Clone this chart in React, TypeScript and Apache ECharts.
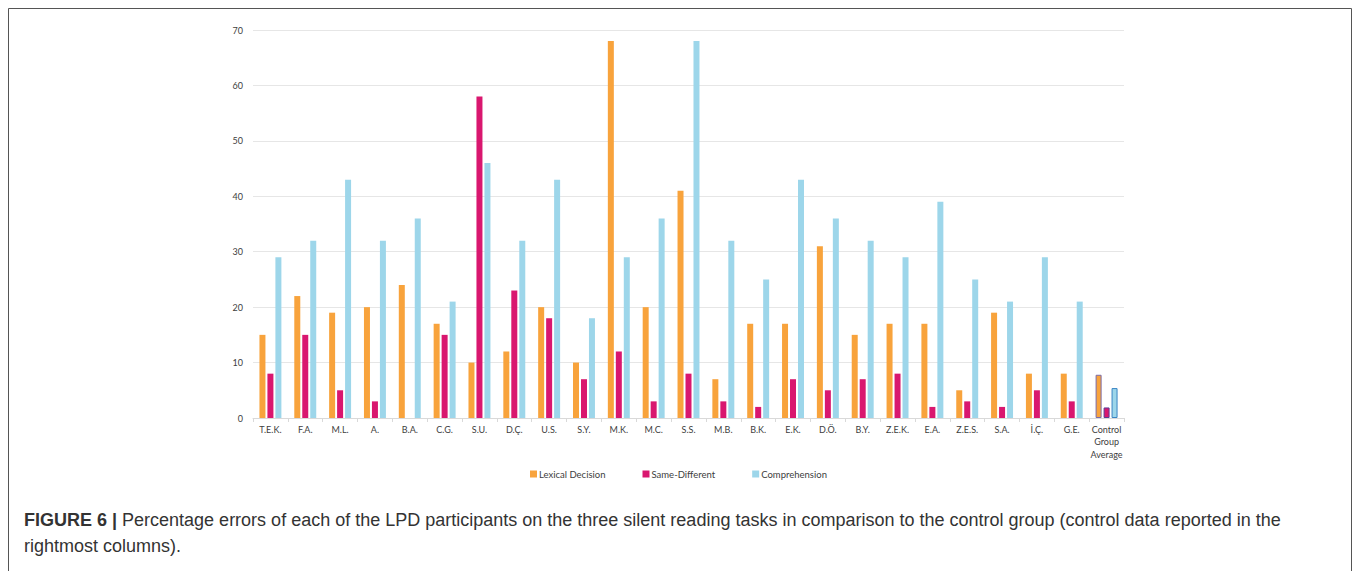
import React, { useEffect, useRef } from "react";
import * as echarts from "echarts";

const categories = [
  "T.E.K.", "F.A.", "M.L.", "A.", "B.A.", "C.G.", "S.U.", "D.Ç.", "U.S.", "S.Y.",
  "M.K.", "M.C.", "S.S.", "M.B.", "B.K.", "E.K.", "D.Ö.", "B.Y.", "Z.E.K.", "E.A.",
  "Z.E.S.", "S.A.", "İ.Ç.", "G.E.", "Control\nGroup\nAverage",
];
const lexicalDecision = [15, 22, 19, 20, 24, 17, 10, 12, 20, 10, 68, 20, 41, 7, 17, 17, 31, 15, 17, 17, 5, 19, 8, 8, 7.8];
const sameDifferent = [8, 15, 5, 3, 0, 15, 58, 23, 18, 7, 12, 3, 8, 3, 2, 7, 5, 7, 8, 2, 3, 2, 5, 3, 1.9];
const comprehension = [29, 32, 43, 32, 36, 21, 46, 32, 43, 18, 29, 36, 68, 32, 25, 43, 36, 32, 29, 39, 25, 21, 29, 21, 5.4];
const yTicks = [0, 10, 20, 30, 40, 50, 60, 70];

const seriesNames = ["Lexical Decision", "Same-Different", "Comprehension"];
const colors = ["#F8A33C", "#D9176F", "#9DD6EA"];
const controlBorders = ["#7B6AA6", "#5A3C96", "#3A86C4"];

const CHART_FONT = "Lato, 'Open Sans', sans-serif";
const CAPTION_FONT = "'Liberation Sans', Arial, sans-serif";

export default function App() {
  const ref = useRef<HTMLDivElement>(null);
  useEffect(() => {
    if (!ref.current) return;
    const chart = echarts.init(ref.current, undefined, { renderer: "svg" });
    const lastIdx = categories.length - 1;
    const mk = (vals: number[], i: number) => ({
      name: seriesNames[i],
      type: "bar",
      barWidth: 6,
      barGap: "33%",
      itemStyle: { color: colors[i] },
      data: vals.map((v, k) =>
        k === lastIdx
          ? { value: v, itemStyle: { color: colors[i], borderColor: controlBorders[i], borderWidth: 1 } }
          : v
      ),
    });
    chart.setOption({
      animation: false,
      backgroundColor: "#ffffff",
      textStyle: { fontFamily: CHART_FONT },
      grid: { left: 253, right: 233, top: 30, bottom: 153, containLabel: false },
      legend: {
        left: 525,
        top: 464,
        itemWidth: 7,
        itemHeight: 7,
        itemGap: 37,
        icon: "rect",
        textStyle: { fontFamily: CHART_FONT, fontSize: 9.5, color: "#404040", padding: [0, 0, 0, -3] },
        data: seriesNames,
      },
      xAxis: {
        type: "category",
        data: categories,
        axisLine: { lineStyle: { color: "#D9D9D9" } },
        axisTick: { show: true, length: 4, lineStyle: { color: "#D9D9D9" } },
        axisLabel: {
          interval: 0,
          margin: 5,
          fontFamily: CHART_FONT,
          fontSize: 9,
          color: "#404040",
          lineHeight: 12.5,
        },
      },
      yAxis: {
        type: "value",
        min: yTicks[0],
        max: yTicks[yTicks.length - 1],
        interval: 10,
        axisLine: { show: false },
        axisTick: { show: false },
        axisLabel: { margin: 10, fontFamily: CHART_FONT, fontSize: 9, color: "#404040" },
        splitLine: { lineStyle: { color: "#E6E6E6", width: 1 } },
      },
      series: [mk(lexicalDecision, 0), mk(sameDifferent, 1), mk(comprehension, 2)],
      graphic: [
        {
          type: "rect",
          shape: { x: 8.5, y: 8.5, width: 1343, height: 620 },
          style: { fill: "none", stroke: "#555555", lineWidth: 1 },
          silent: true,
        },
        {
          type: "text",
          x: 24,
          y: 511,
          style: {
            text: "{b|FIGURE 6 |} Percentage errors of each of the LPD participants on the three silent reading tasks in comparison to the control group (control data reported in the",
            font: "18px " + CAPTION_FONT,
            fill: "#333333",
            rich: {
              b: { fontWeight: "bold", fontSize: 18, fontFamily: CAPTION_FONT, fill: "#333333" },
            },
          },
        },
        {
          type: "text",
          x: 24,
          y: 537,
          style: {
            text: "rightmost columns).",
            font: "18px " + CAPTION_FONT,
            fill: "#333333",
          },
        },
      ],
    });
    return () => chart.dispose();
  }, []);
  return (
    <div
      ref={ref}
      style={{ position: "absolute", left: 0, top: 0, width: 1357, height: 571 }}
    />
  );
}
